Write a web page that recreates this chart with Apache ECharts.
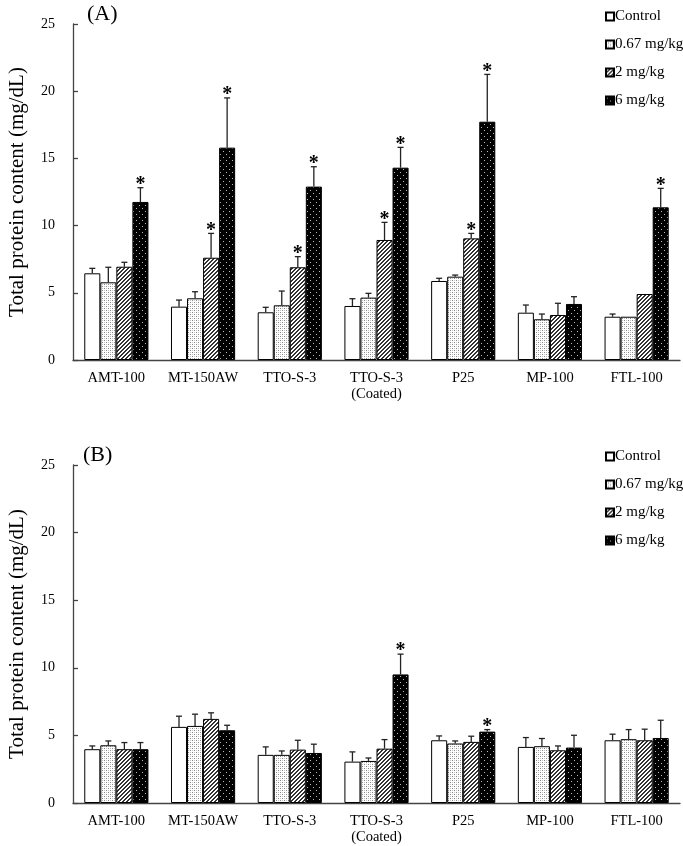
<!DOCTYPE html>
<html>
<head>
<meta charset="utf-8">
<script src="https://cdn.jsdelivr.net/npm/echarts@6/dist/echarts.min.js"></script>
<style>html,body{margin:0;padding:0;background:#fff}#c{width:683px;height:846px}</style>
</head>
<body>
<div id="c"></div>
<script>
const categories = ['AMT-100','MT-150AW','TTO-S-3','TTO-S-3\n(Coated)','P25','MP-100','FTL-100'];
const groups = ['Control','0.67 mg/kg','2 mg/kg','6 mg/kg'];
const yTicks = [0,5,10,15,20,25];

// Panel A
const aControl = [6.45, 3.97, 3.55, 4.02, 5.88, 3.52, 3.22];
const aControlSD = [0.37, 0.49, 0.37, 0.54, 0.20, 0.57, 0.20];
const aLow = [5.78, 4.59, 4.07, 4.64, 6.20, 3.03, 3.22];
const aLowSD = [1.12, 0.49, 1.06, 0.32, 0.12, 0.39, 0];
const aMid = [6.94, 7.61, 6.90, 8.93, 9.05, 3.35, 4.91];
const aMidSD = [0.33, 1.81, 0.79, 1.31, 0.37, 0.87, 0];
const aHigh = [11.76, 15.80, 12.90, 14.31, 17.73, 4.17, 11.36];
const aHighSD = [1.06, 3.70, 1.48, 1.51, 3.52, 0.54, 1.41];
const aStarMid = [0, 1, 1, 1, 1, 0, 0];
const aStarHigh = [1, 1, 1, 1, 1, 0, 1];

// Panel B
const bControl = [3.98, 5.63, 3.56, 3.06, 4.64, 4.15, 4.64];
const bControlSD = [0.24, 0.79, 0.59, 0.72, 0.32, 0.69, 0.45];
const bLow = [4.27, 5.70, 3.56, 3.11, 4.40, 4.20, 4.72];
const bLowSD = [0.32, 0.87, 0.29, 0.22, 0.19, 0.57, 0.71];
const bMid = [3.98, 6.22, 3.95, 4.02, 4.52, 3.90, 4.64];
const bMidSD = [0.49, 0.45, 0.69, 0.67, 0.42, 0.32, 0.82];
const bHigh = [3.98, 5.38, 3.70, 9.51, 5.28, 4.10, 4.81];
const bHighSD = [0.49, 0.37, 0.65, 1.50, 0.15, 0.91, 1.31];
const bStarHigh = [0, 0, 0, 1, 1, 0, 0];
const none = [0, 0, 0, 0, 0, 0, 0];

function makePattern(kind) {
  const c = document.createElement('canvas');
  const ctx = c.getContext('2d');
  if (kind === 'stipple') {
    c.width = 4; c.height = 4;
    ctx.fillStyle = '#ffffff'; ctx.fillRect(0,0,4,4);
    ctx.fillStyle = '#888888';
    ctx.fillRect(0,0,1,1); ctx.fillRect(2,2,1,1);
    ctx.fillStyle = '#c4c4c4';
    ctx.fillRect(2,0,1,1); ctx.fillRect(0,2,1,1);
  } else if (kind === 'hatch') {
    c.width = 4; c.height = 4;
    ctx.fillStyle = '#ffffff'; ctx.fillRect(0,0,4,4);
    ctx.fillStyle = '#333333';
    for (let i = 0; i < 4; i++) { ctx.fillRect(i, 3 - i, 1, 1); ctx.fillRect((i + 1) % 4, 3 - i, 1, 1); }
  } else {
    c.width = 6; c.height = 6;
    ctx.fillStyle = '#000000'; ctx.fillRect(0,0,6,6);
    ctx.fillStyle = '#bbbbbb';
    ctx.fillRect(1,1,1,1); ctx.fillRect(4,4,1,1);
  }
  return { image: c, repeat: 'repeat' };
}
const fills = ['#ffffff', makePattern('stipple'), makePattern('hatch'), makePattern('dots')];

const FONT = 'Liberation Serif';
const GAP = 0.26;

function barSeries(name, k, data, gi) {
  return {
    type: 'bar', name: name, xAxisIndex: gi, yAxisIndex: gi,
    data: data, barGap: '0%', barCategoryGap: (GAP*100) + '%',
    itemStyle: { color: fills[k], borderColor: '#000', borderWidth: 1 },
    emphasis: { disabled: true }, z: 2
  };
}
function errSeries(k, vals, sds, stars, gi) {
  return {
    type: 'custom', xAxisIndex: gi, yAxisIndex: gi, z: 3, silent: true,
    data: vals.map((v, i) => [i, v, sds[i], stars[i]]),
    renderItem: function (params, api) {
      const idx = api.value(0), v = api.value(1), sd = api.value(2), st = api.value(3);
      const band = api.size([1, 0])[0];
      const total = band * (1 - GAP);
      const bw = total / 4;
      const cx = api.coord([idx, 0])[0] - total / 2 + (k + 0.5) * bw;
      const yb = api.coord([idx, v])[1];
      const yt = api.coord([idx, v + sd])[1];
      const children = [];
      if (sd > 0) {
        children.push({ type: 'line', shape: { x1: cx, y1: yb, x2: cx, y2: yt }, style: { stroke: '#222', lineWidth: 1.3 } });
        children.push({ type: 'line', shape: { x1: cx - 3, y1: yt, x2: cx + 3, y2: yt }, style: { stroke: '#222', lineWidth: 1.3 } });
      }
      if (st) {
        children.push({ type: 'text', x: cx, y: yt + 7, style: { text: '*', fill: '#000', font: 'bold 20px ' + FONT, align: 'center', verticalAlign: 'bottom' } });
      }
      return { type: 'group', children: children };
    }
  };
}

const series = [
  barSeries(groups[0], 0, aControl, 0), barSeries(groups[1], 1, aLow, 0),
  barSeries(groups[2], 2, aMid, 0), barSeries(groups[3], 3, aHigh, 0),
  errSeries(0, aControl, aControlSD, none, 0), errSeries(1, aLow, aLowSD, none, 0),
  errSeries(2, aMid, aMidSD, aStarMid, 0), errSeries(3, aHigh, aHighSD, aStarHigh, 0),
  barSeries(groups[0], 0, bControl, 1), barSeries(groups[1], 1, bLow, 1),
  barSeries(groups[2], 2, bMid, 1), barSeries(groups[3], 3, bHigh, 1),
  errSeries(0, bControl, bControlSD, none, 1), errSeries(1, bLow, bLowSD, none, 1),
  errSeries(2, bMid, bMidSD, none, 1), errSeries(3, bHigh, bHighSD, bStarHigh, 1)
];

function xAxis(gi) {
  return {
    type: 'category', gridIndex: gi, data: categories,
    axisLine: { lineStyle: { color: '#444', width: 1.3 } },
    axisTick: { inside: true, length: 5, lineStyle: { color: '#444', width: 1.3 } },
    axisLabel: { color: '#000', fontFamily: FONT, fontSize: 14.5, margin: 10, lineHeight: 16, interval: 0 }
  };
}
function yAxis(gi) {
  return {
    type: 'value', gridIndex: gi, min: yTicks[0], max: yTicks[yTicks.length - 1], interval: 5,
    name: 'Total protein content (mg/dL)', nameLocation: 'middle', nameGap: 45,
    nameTextStyle: { color: '#000', fontFamily: FONT, fontSize: 21 },
    axisLine: { show: true, lineStyle: { color: '#444', width: 1.3 } },
    axisTick: { show: true, inside: true, length: 5, lineStyle: { color: '#444', width: 1.3 } },
    axisLabel: { color: '#000', fontFamily: FONT, fontSize: 14, margin: 18 },
    splitLine: { show: false }
  };
}
function legend(top) {
  return {
    orient: 'vertical', left: 600, top: top, itemWidth: 8, itemHeight: 8, itemGap: 13,
    icon: 'rect', data: groups, selectedMode: false,
    textStyle: { color: '#000', fontFamily: FONT, fontSize: 15, padding: [0, 0, 0, -4] }
  };
}

const chart = echarts.init(document.getElementById('c'), null, { renderer: 'canvas' });
chart.setOption({
  animation: false,
  backgroundColor: '#fff',
  title: [
    { text: '(A)', left: 82, top: -2, textStyle: { fontFamily: FONT, fontSize: 22, fontWeight: 'normal', color: '#000' } },
    { text: '(B)', left: 78, top: 439, textStyle: { fontFamily: FONT, fontSize: 22, fontWeight: 'normal', color: '#000' } }
  ],
  legend: [legend(4), legend(444)],
  grid: [
    { left: 73, right: 3, top: 24, height: 336, containLabel: false, outerBoundsMode: 'none' },
    { left: 73, right: 3, top: 465, height: 338, containLabel: false, outerBoundsMode: 'none' }
  ],
  xAxis: [xAxis(0), xAxis(1)],
  yAxis: [yAxis(0), yAxis(1)],
  series: series
});
</script>
</body>
</html>
